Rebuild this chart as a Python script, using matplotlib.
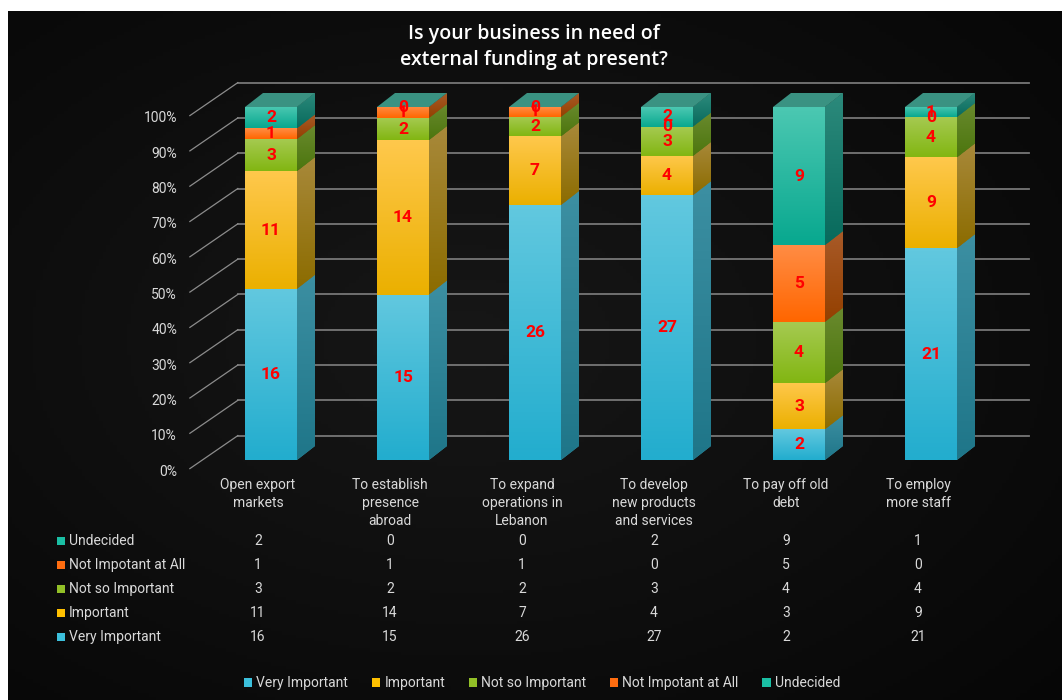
import numpy as np
import matplotlib
matplotlib.use("Agg")
import matplotlib.pyplot as plt
from matplotlib.patches import Polygon, Rectangle, Patch
from matplotlib.colors import to_rgb
import matplotlib.transforms as mtrans

# ---------------- data ----------------
categories = ["Open export\nmarkets", "To establish\npresence\nabroad",
              "To expand\noperations in\nLebanon", "To develop\nnew products\nand services",
              "To pay off old\ndebt", "To employ\nmore staff"]
series_names = ["Very Important", "Important", "Not so Important",
                "Not Impotant at All", "Undecided"]
very_important = [16, 15, 26, 27, 2, 21]
important = [11, 14, 7, 4, 3, 9]
not_so_important = [3, 2, 2, 3, 4, 4]
not_important_at_all = [1, 1, 1, 0, 5, 0]
undecided = [2, 0, 0, 2, 9, 1]
y_ticks = [0, 10, 20, 30, 40, 50, 60, 70, 80, 90, 100]
tick_labels = [f"{t}%" for t in y_ticks]
title = "Is your business in need of\nexternal funding at present?"

series_values = [very_important, important, not_so_important,
                 not_important_at_all, undecided]

# ---------------- styles ----------------
front_top = ["#62C8DF", "#FFC84C", "#A6CA52", "#FF8C44", "#4CC8B2"]
front_bot = ["#22ADCE", "#EBB000", "#82B612", "#FF6600", "#08A88F"]
side_top = ["#3C8FA2", "#A8893A", "#6A8A2E", "#A85A28", "#2C8A7C"]
side_bot = ["#1F7689", "#8C6C00", "#4C760E", "#944000", "#086A5C"]
legend_cols = ["#3CC0DC", "#FFC000", "#92C027", "#FF6D10", "#1ABFA4"]
top_face = "#3A9282"
txt_col = "#D9D9D9"

W, H = 1062, 700
fig = plt.figure(figsize=(W / 100, H / 100), dpi=100, facecolor="white")

# background frame (dark, subtle radial gradient)
bg = fig.add_axes([8 / W, 0, 1 - 8 / W, 1 - 11 / H], zorder=0)
yy, xx = np.mgrid[0:200, 0:300]
r = np.sqrt(((xx - 130) / 300) ** 2 + ((yy - 95) / 200) ** 2)
v = np.clip(0.09 - 0.085 * r, 0.02, 0.09)
bg.imshow(np.dstack([v, v, v]), aspect="auto", extent=(0, 1, 0, 1))
bg.axis("off")

# main axes, mapping: pixel x = 271 + 132*i ; pixel y(top) = 460 - 3.53*p
ax = fig.add_axes([0, 0, 1, 1], zorder=1)
ax.patch.set_alpha(0)
XS, X0P = 132.0, 271.0
YS, Y0P = 3.53, 460.0
ax.set_xlim((0 - X0P) / XS, (W - X0P) / XS)
ax.set_ylim((Y0P - H) / YS, Y0P / YS)
ax.axis("off")

# 3D geometry (in data units)
bw = 52 / XS                  # bar width
ddx, ddy = 18 / XS, 14 / YS   # bar depth offset
bkx, bky = 35.5 / XS, 24.4 / YS   # bar-front plane -> back wall
frx, fry = -12.5 / XS, -8.6 / YS  # bar-front plane -> floor front
lab_dy = -11.5 / YS
left_edge = -0.52
right_back = (1029 - X0P) / XS

# gridlines
for t in y_ticks:
    ax.plot([left_edge + bkx, right_back], [t + bky, t + bky],
            color="#777777", lw=1.3, zorder=1)
    ax.plot([left_edge + frx, left_edge + bkx], [t + fry, t + bky],
            color="#8C8C8C", lw=0.9, zorder=1)
    ax.text((177 - X0P) / XS, t + lab_dy, f"{t}%", ha="right", va="center",
            fontsize=10, color=txt_col, family="Roboto")


def vgrad(c1, c2, n=64):
    a, b = np.array(to_rgb(c1)), np.array(to_rgb(c2))
    t = np.linspace(0, 1, n)[:, None]
    return ((1 - t) * a + t * b)[:, None, :]


x = np.arange(len(categories))
totals = np.sum(np.array(series_values), axis=0)
bottoms = np.zeros(len(categories))
for s, vals in enumerate(series_values):
    pct = np.array(vals) / totals * 100
    bars = ax.bar(x, pct, bottom=bottoms, width=bw, color=legend_cols[s],
                  zorder=3, linewidth=0)
    for i, (rect, h) in enumerate(zip(bars, pct)):
        b = bottoms[i]
        if h > 0:
            im = ax.imshow(vgrad(front_top[s], front_bot[s]), origin="upper",
                           extent=(x[i] - bw / 2, x[i] + bw / 2, b, b + h),
                           aspect="auto", zorder=3.1)
            im.set_clip_path(rect)
            xr = x[i] + bw / 2
            side = Polygon([(xr, b), (xr + ddx, b + ddy), (xr + ddx, b + h + ddy),
                            (xr, b + h)], closed=True, color=side_top[s],
                           lw=0, zorder=3)
            ax.add_patch(side)
            im2 = ax.imshow(vgrad(side_top[s], side_bot[s]), origin="upper",
                            extent=(xr, xr + ddx, b, b + h + ddy),
                            aspect="auto", zorder=3.1)
            im2.set_clip_path(side)
        ax.text(x[i], b + h / 2, str(vals[i]), ha="center", va="center",
                color="#FF0000", fontsize=12.5, fontweight="bold",
                family="Roboto", zorder=6)
    bottoms = bottoms + pct

# top faces
for i in range(len(categories)):
    tp = bottoms[i]
    ax.add_patch(Polygon([(x[i] - bw / 2, tp), (x[i] + bw / 2, tp),
                          (x[i] + bw / 2 + ddx, tp + ddy),
                          (x[i] - bw / 2 + ddx, tp + ddy)],
                         closed=True, color=top_face, lw=0, zorder=4))

ax.set_xlim((0 - X0P) / XS, (W - X0P) / XS)
ax.set_ylim((Y0P - H) / YS, Y0P / YS)

# title
fig.text(534 / W, 1 - 47 / H, title, ha="center", va="center", fontsize=14,
         fontweight="semibold", color="white", family="Open Sans",
         linespacing=1.35)

# category labels and data table
bt = mtrans.blended_transform_factory(ax.transData, fig.transFigure)
col_shift = -13 / XS
for i, c in enumerate(categories):
    ax.text(x[i] + col_shift, 1 - 478 / H, c, transform=bt, ha="center",
            va="top", fontsize=10, color=txt_col, family="Roboto",
            linespacing=1.38)

row_order = list(range(len(series_names)))[::-1]
for r, s in enumerate(row_order):
    ypx = 541 + 23.9 * r
    fig.add_artist(Rectangle((57 / W, 1 - (ypx + 4) / H), 8 / W, 8 / H,
                             transform=fig.transFigure,
                             color=legend_cols[s], lw=0))
    fig.text(69 / W, 1 - ypx / H, series_names[s], ha="left", va="center",
             fontsize=10, color=txt_col, family="Roboto")
    for i in range(len(categories)):
        ax.text(x[i] + col_shift, 1 - ypx / H, str(series_values[s][i]),
                transform=bt, ha="center", va="center", fontsize=10,
                color=txt_col, family="Roboto")

handles = [Patch(facecolor=legend_cols[s], edgecolor="none", label=series_names[s])
           for s in range(len(series_names))]
fig.legend(handles=handles, loc="center", bbox_to_anchor=(542 / W, 1 - 683 / H),
           ncol=5, frameon=False, handlelength=0.6, handleheight=0.6,
           handletextpad=0.3, columnspacing=1.7,
           prop={"family": "Roboto", "size": 10}, labelcolor=txt_col)

fig.savefig("out.png", dpi=100, facecolor="white")
